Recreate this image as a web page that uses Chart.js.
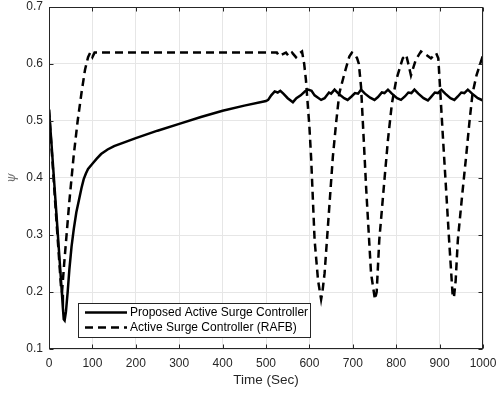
<!DOCTYPE html>
<html><head><meta charset="utf-8">
<script src="https://cdn.jsdelivr.net/npm/chart.js@4/dist/chart.umd.min.js"></script>
<style>html,body{margin:0;padding:0;background:#fff}</style>
</head><body>
<canvas id="c" width="496" height="393"></canvas>
<script>
const seriesLabels = ['Proposed Active Surge Controller', 'Active Surge Controller (RAFB)'];
const xTickValues = [0, 100, 200, 300, 400, 500, 600, 700, 800, 900, 1000];
const yTickValues = [0.1, 0.2, 0.3, 0.4, 0.5, 0.6, 0.7];

const timeProposed = [0, 5, 10, 15, 20, 25, 30, 32, 34, 36, 39, 43, 47, 52, 57, 63, 70, 75, 80, 85, 90, 100, 110, 120, 135, 150, 175, 200, 250, 300, 350, 400, 450, 500,
  505, 512, 520, 527, 533, 540, 550, 562, 570, 580, 590, 597, 605, 612, 627, 635, 645, 650, 658, 667, 680, 688, 697, 705, 712, 719, 728, 740, 750, 758, 767, 773, 781, 790, 802, 811, 820, 828, 835, 842, 851, 863, 873, 880, 889, 896, 904, 913, 925, 934, 942, 950, 957, 965, 975, 988, 1000];
const psiProposed = [0.52, 0.468, 0.414, 0.36, 0.305, 0.25, 0.195, 0.172, 0.152, 0.15, 0.165, 0.2, 0.24, 0.28, 0.31, 0.34, 0.365, 0.383, 0.398, 0.408, 0.416, 0.425, 0.434, 0.442, 0.45, 0.456, 0.463, 0.47, 0.483, 0.495, 0.507, 0.518, 0.527, 0.535,
  0.537, 0.545, 0.552, 0.55, 0.553, 0.548, 0.54, 0.533, 0.54, 0.545, 0.552, 0.555, 0.553, 0.545, 0.537, 0.54, 0.55, 0.548, 0.555, 0.548, 0.54, 0.537, 0.543, 0.549, 0.548, 0.555, 0.548, 0.541, 0.537, 0.542, 0.55, 0.549, 0.555, 0.548, 0.54, 0.537, 0.543, 0.55, 0.549, 0.555, 0.548, 0.54, 0.536, 0.542, 0.55, 0.549, 0.555, 0.548, 0.54, 0.537, 0.543, 0.55, 0.549, 0.555, 0.548, 0.54, 0.536];

const timeRAFB = [0, 14, 28, 30, 35, 47, 57, 66, 75, 83, 90, 95, 100, 105, 200, 300, 400, 500, 525, 530, 546, 552, 560, 569, 575, 583, 588, 592, 600, 604, 612, 620, 627, 630, 635, 645, 654, 662, 669, 681, 692, 698, 704, 710, 714, 719, 725, 731, 742, 751, 755, 761, 771, 781, 790, 800, 815, 823, 828, 834, 840, 845, 857, 869, 880, 892, 897, 900, 907, 915, 922, 930, 933, 937, 942, 952, 961, 969, 976, 985, 992, 1000];
const psiRAFB = [0.52, 0.36, 0.205, 0.2, 0.25, 0.36, 0.44, 0.5, 0.55, 0.59, 0.612, 0.62, 0.612, 0.62, 0.62, 0.62, 0.62, 0.62, 0.62, 0.614, 0.62, 0.614, 0.62, 0.612, 0.618, 0.622, 0.6, 0.572, 0.49, 0.435, 0.291, 0.22, 0.187, 0.2, 0.233, 0.34, 0.437, 0.5, 0.549, 0.584, 0.613, 0.62, 0.618, 0.61, 0.6, 0.56, 0.47, 0.379, 0.233, 0.187, 0.2, 0.291, 0.38, 0.467, 0.53, 0.572, 0.61, 0.616, 0.6, 0.58, 0.595, 0.607, 0.622, 0.616, 0.61, 0.619, 0.61, 0.572, 0.48, 0.379, 0.29, 0.195, 0.19, 0.22, 0.291, 0.37, 0.437, 0.5, 0.549, 0.58, 0.597, 0.615];

const axisColor = '#262626';
const FONT = '"Liberation Sans", Arial, sans-serif';

const toPoints = (xs, ys) => xs.map((x, i) => ({ x: x, y: ys[i] }));

const boxPlugin = {
  id: 'boxPlugin',
  afterDraw(chart) {
    const ctx = chart.ctx;
    const a = chart.chartArea;
    const xs = chart.scales.x, ys = chart.scales.y;
    ctx.save();
    ctx.strokeStyle = axisColor;
    ctx.lineWidth = 1;
    const L = Math.round(a.left) + 0.5, R = Math.round(a.right) - 0.5;
    const T = Math.round(a.top) + 0.5, B = Math.round(a.bottom) - 0.5;
    ctx.strokeRect(L, T, R - L, B - T);
    ctx.beginPath();
    xTickValues.forEach(v => {
      const px = Math.round(xs.getPixelForValue(v)) + 0.5;
      ctx.moveTo(px, B); ctx.lineTo(px, B - 4);
      ctx.moveTo(px, T); ctx.lineTo(px, T + 4);
    });
    yTickValues.forEach(v => {
      const py = Math.round(ys.getPixelForValue(v)) + 0.5;
      ctx.moveTo(L, py); ctx.lineTo(L + 4, py);
      ctx.moveTo(R, py); ctx.lineTo(R - 4, py);
    });
    ctx.stroke();

    // legend
    const lx = 78.5, ly = 303.5, lw = 232, lh = 34;
    ctx.fillStyle = '#fff';
    ctx.fillRect(lx, ly, lw, lh);
    ctx.strokeStyle = axisColor;
    ctx.strokeRect(lx, ly, lw, lh);
    const rows = [312.5, 327.5];
    chart.data.datasets.forEach((ds, i) => {
      ctx.beginPath();
      ctx.strokeStyle = ds.borderColor;
      ctx.lineWidth = ds.borderWidth;
      ctx.setLineDash(ds.borderDash || []);
      ctx.moveTo(85, rows[i]); ctx.lineTo(127, rows[i]);
      ctx.stroke();
      ctx.setLineDash([]);
      ctx.fillStyle = '#000';
      ctx.font = '12px ' + FONT;
      ctx.textBaseline = 'middle';
      ctx.textAlign = 'left';
      ctx.fillText(ds.label, 130, rows[i]);
    });
    ctx.restore();
  }
};

new Chart(document.getElementById('c'), {
  type: 'line',
  data: {
    datasets: [
      { label: seriesLabels[0], data: toPoints(timeProposed, psiProposed), borderColor: '#000', borderWidth: 2.5, pointRadius: 0, tension: 0, fill: false },
      { label: seriesLabels[1], data: toPoints(timeRAFB, psiRAFB), borderColor: '#000', borderWidth: 2.5, borderDash: [8, 5], pointRadius: 0, tension: 0, fill: false }
    ]
  },
  options: {
    responsive: false,
    animation: false,
    layout: { padding: { top: 7, right: 13, left: 0, bottom: 0 } },
    plugins: { legend: { display: false }, tooltip: { enabled: false } },
    scales: {
      x: {
        type: 'linear', min: 0, max: 1000,
        afterBuildTicks: s => { s.ticks = xTickValues.map(v => ({ value: v })); },
        ticks: { color: axisColor, font: { size: 12, family: FONT }, padding: 7, maxRotation: 0, autoSkip: false, callback: v => String(v) },
        grid: { color: '#e6e6e6', drawTicks: false },
        border: { display: false },
        title: { display: true, text: 'Time (Sec)', color: axisColor, font: { size: 13.5, family: FONT }, padding: { top: 0, bottom: 5 } },
        afterFit: s => { s.height = 44; s.paddingLeft = 0; s.paddingRight = 0; }
      },
      y: {
        type: 'linear', min: 0.1, max: 0.7,
        afterBuildTicks: s => { s.ticks = yTickValues.map(v => ({ value: v })); },
        ticks: { color: axisColor, font: { size: 12, family: FONT }, padding: 6, callback: v => Number(v).toFixed(1) },
        grid: { color: '#e6e6e6', drawTicks: false },
        border: { display: false },
        title: { display: true, text: 'ψ', color: '#707070', font: { size: 12, family: '"DejaVu Serif", serif', style: 'italic' }, padding: { top: 5, bottom: 0 } },
        afterFit: s => { s.width = 49; s.paddingTop = 0; s.paddingBottom = 0; }
      }
    }
  },
  plugins: [boxPlugin]
});
</script>
</body></html>
